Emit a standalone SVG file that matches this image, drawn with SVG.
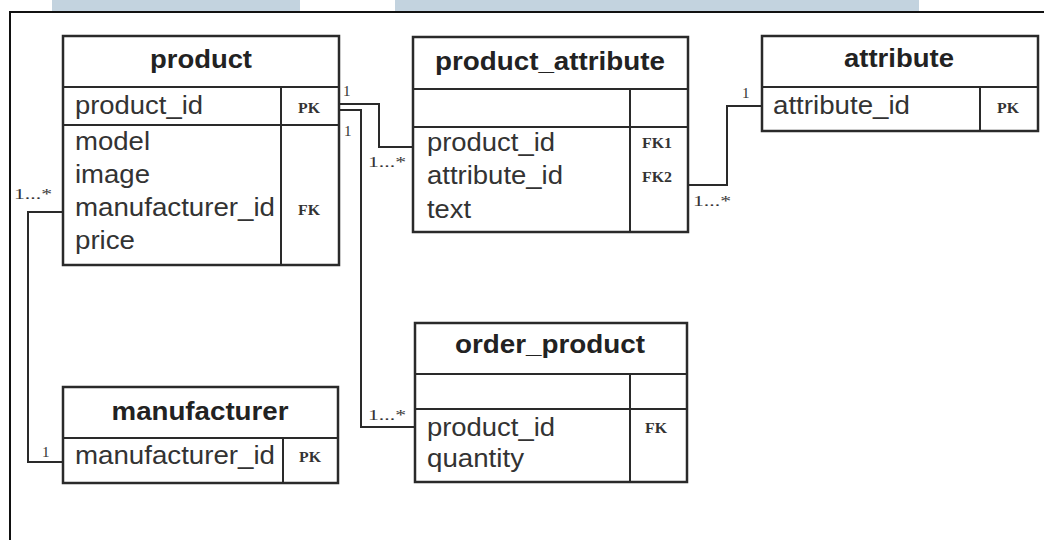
<svg xmlns="http://www.w3.org/2000/svg" width="1044" height="540" viewBox="0 0 1044 540">
<style>
.box{fill:#fff;stroke:#2a2a2a;stroke-width:2.5}
.ln{stroke:#2a2a2a;stroke-width:2;fill:none}
.t{font-family:"Liberation Sans",Arial,sans-serif;font-size:25px;font-weight:bold;fill:#222;text-anchor:middle}
.f{font-family:"Liberation Sans",Arial,sans-serif;font-size:25px;fill:#333}
.k{font-family:"Liberation Serif","Times New Roman",serif;font-size:14px;font-weight:bold;fill:#333;text-anchor:middle}
.m{font-family:"Liberation Serif","Times New Roman",serif;font-size:15px;fill:#333}
.con{stroke:#2a2a2a;stroke-width:2;fill:none}
</style>
<rect width="1044" height="540" fill="#fff"/>
<rect x="52" y="0" width="248" height="13" fill="#c3d3df"/>
<rect x="395" y="0" width="524" height="13" fill="#c3d3df"/>
<path d="M10,540 V12 H1044" stroke="#111" stroke-width="2" fill="none"/>

<g id="connectors">
<path class="con" d="M339,104 H379 V147 H413"/>
<path class="con" d="M339,110 H361 V427 H415"/>
<path class="con" d="M688,185 H727 V106 H762"/>
<path class="con" d="M63,212 H28 V462 H63"/>
<text class="m" x="343" y="96">1</text>
<text class="m" x="368" y="167" textLength="38" lengthAdjust="spacingAndGlyphs">1...*</text>
<text class="m" x="344" y="136">1</text>
<text class="m" x="368" y="420" textLength="38" lengthAdjust="spacingAndGlyphs">1...*</text>
<text class="m" x="742" y="98">1</text>
<text class="m" x="693" y="206" textLength="38" lengthAdjust="spacingAndGlyphs">1...*</text>
<text class="m" x="14" y="199" textLength="38" lengthAdjust="spacingAndGlyphs">1...*</text>
<text class="m" x="42" y="457">1</text>
</g>

<g id="product">
<rect class="box" x="63" y="36" width="276" height="229"/>
<path class="ln" d="M63,87 H339 M63,125 H339 M281,87 V265"/>
<text class="t" x="201" y="68" textLength="102" lengthAdjust="spacingAndGlyphs">product</text>
<text class="f" x="75" y="114" textLength="128" lengthAdjust="spacingAndGlyphs">product_id</text>
<text class="f" x="75" y="150" textLength="75" lengthAdjust="spacingAndGlyphs">model</text>
<text class="f" x="75" y="183" textLength="75" lengthAdjust="spacingAndGlyphs">image</text>
<text class="f" x="75" y="216" textLength="200" lengthAdjust="spacingAndGlyphs">manufacturer_id</text>
<text class="f" x="75" y="249" textLength="60" lengthAdjust="spacingAndGlyphs">price</text>
<text class="k" x="309" y="113" textLength="22" lengthAdjust="spacingAndGlyphs">PK</text>
<text class="k" x="309" y="215" textLength="22" lengthAdjust="spacingAndGlyphs">FK</text>
</g>

<g id="product_attribute">
<rect class="box" x="413" y="37" width="275" height="195"/>
<path class="ln" d="M413,89 H688 M413,127 H688 M630,89 V232"/>
<text class="t" x="550" y="70" textLength="230" lengthAdjust="spacingAndGlyphs">product_attribute</text>
<text class="f" x="427" y="151" textLength="128" lengthAdjust="spacingAndGlyphs">product_id</text>
<text class="f" x="427" y="184" textLength="136" lengthAdjust="spacingAndGlyphs">attribute_id</text>
<text class="f" x="427" y="218" textLength="44" lengthAdjust="spacingAndGlyphs">text</text>
<text class="k" x="657" y="148" textLength="30" lengthAdjust="spacingAndGlyphs">FK1</text>
<text class="k" x="657" y="182" textLength="30" lengthAdjust="spacingAndGlyphs">FK2</text>
</g>

<g id="attribute">
<rect class="box" x="762" y="36" width="276" height="95"/>
<path class="ln" d="M762,87 H1038 M980,87 V131"/>
<text class="t" x="899" y="67" textLength="110" lengthAdjust="spacingAndGlyphs">attribute</text>
<text class="f" x="773" y="114" textLength="137" lengthAdjust="spacingAndGlyphs">attribute_id</text>
<text class="k" x="1008" y="113" textLength="22" lengthAdjust="spacingAndGlyphs">PK</text>
</g>

<g id="manufacturer">
<rect class="box" x="63" y="387" width="275" height="96"/>
<path class="ln" d="M63,438 H338 M283,438 V483"/>
<text class="t" x="200" y="420" textLength="177" lengthAdjust="spacingAndGlyphs">manufacturer</text>
<text class="f" x="75" y="464" textLength="200" lengthAdjust="spacingAndGlyphs">manufacturer_id</text>
<text class="k" x="310" y="462" textLength="22" lengthAdjust="spacingAndGlyphs">PK</text>
</g>

<g id="order_product">
<rect class="box" x="415" y="323" width="272" height="159"/>
<path class="ln" d="M415,374 H687 M415,409 H687 M630,374 V482"/>
<text class="t" x="550" y="353" textLength="190" lengthAdjust="spacingAndGlyphs">order_product</text>
<text class="f" x="427" y="436" textLength="128" lengthAdjust="spacingAndGlyphs">product_id</text>
<text class="f" x="427" y="467" textLength="97" lengthAdjust="spacingAndGlyphs">quantity</text>
<text class="k" x="656" y="433" textLength="22" lengthAdjust="spacingAndGlyphs">FK</text>
</g>
</svg>
